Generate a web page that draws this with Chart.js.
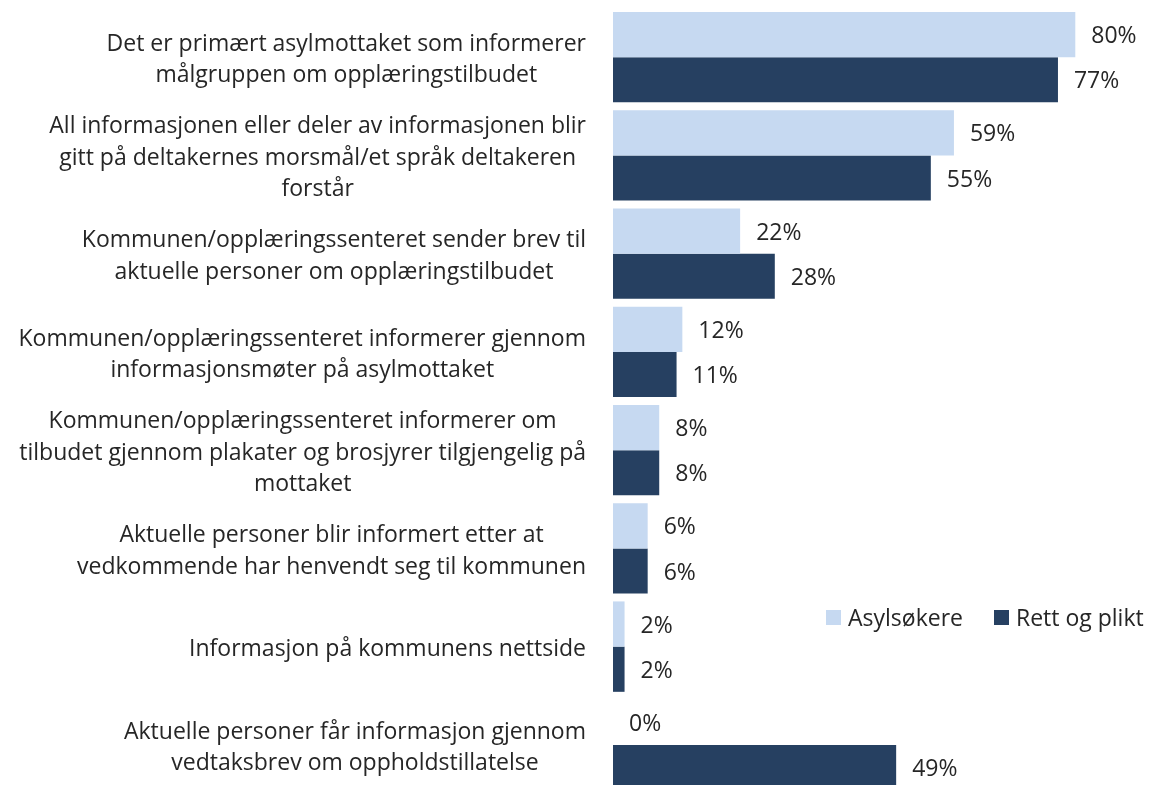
<!DOCTYPE html>
<html>
<head>
<meta charset="utf-8">
<script src="https://cdn.jsdelivr.net/npm/chart.js@4.4.1/dist/chart.umd.min.js"></script>
<style>
  html, body { margin: 0; padding: 0; background: #fff; overflow: hidden; }
  #wrap { position: relative; width: 1151px; height: 785px; overflow: hidden; }
  #legend { position: absolute; left: 826px; top: 601px; display: flex; font: 23px "Open Sans", sans-serif; color: #262626; }
  #legend span.item { display: flex; align-items: center; margin-right: 31px; white-space: nowrap; }
  #legend span.box { width: 15px; height: 15px; margin-right: 7px; display: inline-block; }
</style>
</head>
<body>
<div id="wrap">
  <canvas id="chart" width="1151" height="800"></canvas>
  <div id="legend"></div>
</div>
<script>
const categories = [
  ["Det er primært asylmottaket som informerer", "målgruppen om opplæringstilbudet"],
  ["All informasjonen eller deler av informasjonen blir", "gitt på deltakernes morsmål/et språk deltakeren", "forstår"],
  ["Kommunen/opplæringssenteret sender brev til", "aktuelle personer om opplæringstilbudet"],
  ["Kommunen/opplæringssenteret informerer gjennom", "informasjonsmøter på asylmottaket"],
  ["Kommunen/opplæringssenteret informerer om", "tilbudet gjennom plakater og brosjyrer tilgjengelig på", "mottaket"],
  ["Aktuelle personer blir informert etter at", "vedkommende har henvendt seg til kommunen"],
  ["Informasjon på kommunens nettside"],
  ["Aktuelle personer får informasjon gjennom", "vedtaksbrev om oppholdstillatelse"]
];
const asylsokere = [80, 59, 22, 12, 8, 6, 2, 0];
const rettOgPlikt = [77, 55, 28, 11, 8, 6, 2, 49];

const FONT = '23px "Open Sans", sans-serif';
const TEXT = "#262626";

// category labels: block right-aligned, lines centred inside the block
const catLabels = {
  id: "catLabels",
  afterDraw(chart) {
    const ctx = chart.ctx;
    const y = chart.scales.y;
    const right = y.right - 27;
    const lh = 31.5;
    ctx.save();
    ctx.font = FONT;
    ctx.fillStyle = TEXT;
    ctx.textAlign = "center";
    ctx.textBaseline = "middle";
    categories.forEach((lines, i) => {
      const cy = y.getPixelForValue(i) + 3;
      const w = Math.max(...lines.map(l => ctx.measureText(l).width));
      const cx = right - w / 2;
      lines.forEach((l, j) => {
        ctx.fillText(l, cx, cy + (j - (lines.length - 1) / 2) * lh);
      });
    });
    ctx.restore();
  }
};

// value labels at the bar ends
const valueLabels = {
  id: "valueLabels",
  afterDatasetsDraw(chart) {
    const ctx = chart.ctx;
    ctx.save();
    ctx.font = FONT;
    ctx.fillStyle = TEXT;
    ctx.textAlign = "left";
    ctx.textBaseline = "middle";
    chart.data.datasets.forEach((ds, di) => {
      chart.getDatasetMeta(di).data.forEach((el, i) => {
        ctx.fillText(ds.data[i] + "%", el.x + 16, el.y + 2);
      });
    });
    ctx.restore();
  }
};

const chart = new Chart(document.getElementById("chart"), {
  type: "bar",
  data: {
    labels: categories,
    datasets: [
      { label: "Asylsøkere", data: asylsokere, backgroundColor: "#c6d9f1" },
      { label: "Rett og plikt", data: rettOgPlikt, backgroundColor: "#264061" }
    ]
  },
  options: {
    indexAxis: "y",
    responsive: false,
    animation: false,
    categoryPercentage: 0.92,
    barPercentage: 1.0,
    layout: { padding: { top: 8, bottom: 6, right: 0, left: 0 } },
    plugins: {
      legend: { display: false },
      tooltip: { enabled: false }
    },
    scales: {
      x: { display: false, min: 0, max: 93.1 },
      y: {
        grid: { display: false },
        border: { display: false },
        ticks: { display: false },
        afterFit(scale) { scale.width = 613; }
      }
    }
  },
  plugins: [catLabels, valueLabels]
});

const legend = document.getElementById("legend");
chart.data.datasets.forEach(ds => {
  const item = document.createElement("span");
  item.className = "item";
  const box = document.createElement("span");
  box.className = "box";
  box.style.background = ds.backgroundColor;
  item.appendChild(box);
  item.appendChild(document.createTextNode(ds.label));
  legend.appendChild(item);
});
</script>
</body>
</html>
